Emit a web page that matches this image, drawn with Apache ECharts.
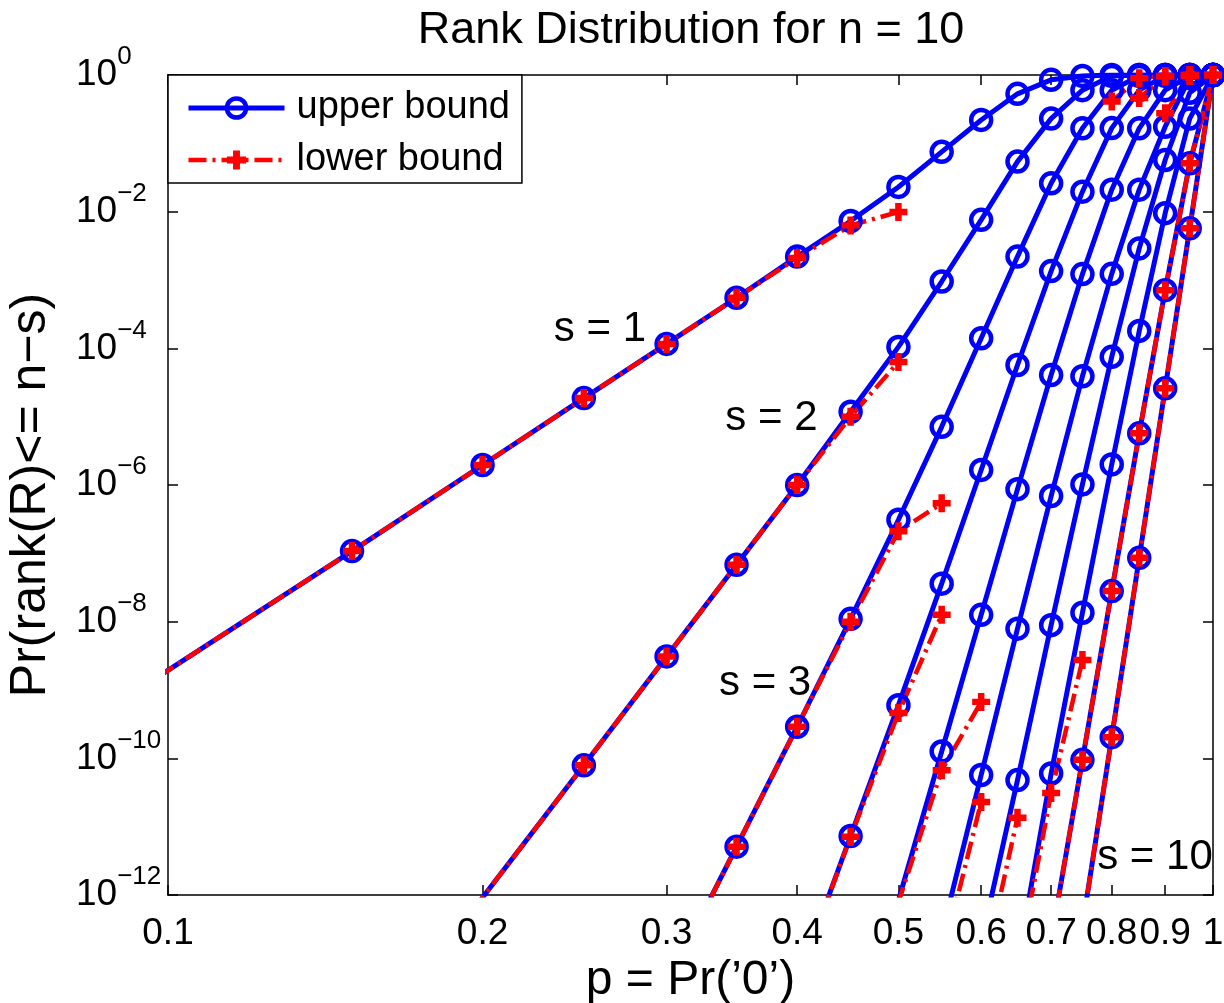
<!DOCTYPE html>
<html>
<head>
<meta charset="utf-8">
<title>Rank Distribution for n = 10</title>
<script src="https://cdn.jsdelivr.net/npm/echarts@6/dist/echarts.min.js"></script>
<style>
  html, body { margin: 0; padding: 0; background: #fff; }
  #chart { width: 1224px; height: 1003px; }
</style>
</head>
<body>
<div id="chart"></div>
<script>
// p = Pr('0'), sampled every 0.05
const pValues = [0.05, 0.10, 0.15, 0.20, 0.25, 0.30, 0.35, 0.40, 0.45, 0.50,
                 0.55, 0.60, 0.65, 0.70, 0.75, 0.80, 0.85, 0.90, 0.95, 1.00];

// upper bounds, one array per s (null = no sample)
const upper1  = [2e-12, null, 1.08e-7, 1.96e-6, 1.87e-5, 1.16e-4, 5.5e-4, 2.2e-3, 7.3e-3, 0.023, 0.075, 0.22, 0.53, 0.85, 0.97, 1, 1, 1, 1, 1];
const upper2  = [null, null, 3e-15, 9.2e-13, 7.9e-11, 3.1e-9, 6.8e-8, 1.0e-6, 1.18e-5, 1.05e-4, 9.5e-4, 7.6e-3, 0.054, 0.23, 0.6, 0.97, 1, 1, 1, 1];
const upper3  = [null, null, null, null, null, 4.8e-14, 5.1e-12, 2.9e-10, 1.1e-8, 3.1e-7, 7.1e-6, 1.4e-4, 2.2e-3, 0.026, 0.166, 0.6, 0.97, 1, 1, 1];
const upper4  = [null, null, null, null, null, null, null, 5.3e-14, 7.3e-12, 6.0e-10, 3.6e-8, 1.66e-6, 5.7e-5, 1.35e-3, 0.0196, 0.167, 0.6, 0.97, 1, 1];
const upper5  = [null, null, null, null, null, null, null, null, 3.5e-15, 8.3e-13, 1.26e-10, 1.26e-8, 8.7e-7, 4.07e-5, 1.22e-3, 0.021, 0.166, 0.6, 0.97, 1];
const upper6  = [null, null, null, null, null, null, null, null, null, 2e-15, 2.6e-13, 5.7e-11, 7.9e-9, 6.9e-7, 3.9e-5, 1.23e-3, 0.021, 0.175, 0.9, 1];
const upper7  = [null, null, null, null, null, null, null, null, null, null, 6e-16, 2e-13, 4.8e-11, 8.9e-9, 1.02e-6, 7.5e-5, 2.9e-3, 0.057, 0.55, 1];
const upper8  = [null, null, null, null, null, null, null, null, null, null, null, null, 1.0e-13, 6.0e-11, 1.35e-8, 2.0e-6, 1.8e-4, 9.5e-3, 0.23, 1];
const upper9  = [null, null, null, null, null, null, null, null, null, null, null, null, null, 2.2e-13, 9.5e-11, 2.8e-8, 5.7e-6, 7.1e-4, 0.051, 1];
const upper10 = [null, null, null, null, null, null, null, null, null, null, null, null, null, null, 3.5e-13, 2.04e-10, 8.6e-8, 2.6e-5, 5.7e-3, 1];

// lower bounds (0 = bound not positive, nothing drawn there)
const lower1  = [2e-12, null, 1.08e-7, 1.96e-6, 1.87e-5, 1.16e-4, 5.5e-4, 2.1e-3, 6.3e-3, 9.9e-3, 0, 0, 0, 0, 0, 0, 0, 0, 0, 0];
const lower2  = [null, null, 3e-15, 9.2e-13, 7.9e-11, 3.1e-9, 6.8e-8, 1.0e-6, 1.0e-5, 6.3e-5, 0, 0, 0, 0, 0, 0, 0, 0, 0, 0];
const lower3  = [null, null, null, null, null, 4.8e-14, 5.1e-12, 2.9e-10, 1.0e-8, 2.1e-7, 5.4e-7, 0, 0, 0, 0, 0.41, 0.9, 0.97, 1, 1];
const lower4  = [null, null, null, null, null, null, null, 5.3e-14, 7.1e-12, 4.6e-10, 1.26e-8, 0, 0, 0, 0, 0, 0.46, 0.95, 1, 1];
const lower5  = [null, null, null, null, null, null, null, null, 3.5e-15, 7.8e-13, 6.7e-11, 6.7e-10, 0, 0, 0, 0, 0, 0.275, 0.97, 1];
const lower6  = [null, null, null, null, null, null, null, null, null, 2e-15, 1.1e-13, 2.3e-11, 0, 0, 0, 0, 0, 0, 0, 0];
const lower7  = [null, null, null, null, null, null, null, null, null, null, 6e-16, 5.3e-14, 1.35e-11, 0, 0, 0, 0, 0, 0, 0];
const lower8  = [null, null, null, null, null, null, null, null, null, null, null, null, 8e-14, 3.1e-11, 2.75e-9, 0, 0, 0, 0, 0];
const lower9  = [null, null, null, null, null, null, null, null, null, null, null, null, null, 2.2e-13, 9.5e-11, 2.8e-8, 5.7e-6, 7.1e-4, 0.051, 1];
const lower10 = [null, null, null, null, null, null, null, null, null, null, null, null, null, null, 3.5e-13, 2.04e-10, 8.6e-8, 2.6e-5, 5.7e-3, 1];

const upperBounds = [upper1, upper2, upper3, upper4, upper5, upper6, upper7, upper8, upper9, upper10];
const lowerBounds = [lower1, lower2, lower3, lower4, lower5, lower6, lower7, lower8, lower9, lower10];

// tick values
const xTicks = [0.1, 0.2, 0.3, 0.4, 0.5, 0.6, 0.7, 0.8, 0.9, 1];
const yTicks = [1e-12, 1e-10, 1e-8, 1e-6, 1e-4, 1e-2, 1];

// curve labels
const curveLabels = ['s = 1', 's = 2', 's = 3', 's = 10'];
const curveLabelAt = [[0.259, 1.86e-4], [0.378, 9.5e-6], [0.3727, 1.26e-9], [0.88, 3.6e-12]];

const font = 'Liberation Sans, Arial, Helvetica, sans-serif';
const plusPath = 'path://M3.2,0H6.8V3.2H10V6.8H6.8V10H3.2V6.8H0V3.2H3.2Z';

const chart = echarts.init(document.getElementById('chart'), null, { renderer: 'canvas' });

function toPairs(values) {
  const out = [];
  values.forEach((v, i) => {
    if (v === null) return;
    out.push([pValues[i], v > 0 ? v : '-']);
  });
  return out;
}

const upperSeries = upperBounds.map(vals => ({
  name: 'upper bound',
  type: 'line',
  data: toPairs(vals),
  symbol: 'circle',
  symbolSize: 20,
  showAllSymbol: true,
  connectNulls: false,
  clip: true,
  lineStyle: { color: '#0000ff', width: 5 },
  itemStyle: { color: 'rgba(0,0,0,0)', borderColor: '#0000ff', borderWidth: 4.5 },
  emphasis: { disabled: true },
  silent: true
}));

const lowerSeries = lowerBounds.map(vals => ({
  name: 'lower bound',
  type: 'line',
  data: toPairs(vals),
  symbol: plusPath,
  symbolSize: 18,
  showAllSymbol: true,
  connectNulls: false,
  clip: true,
  lineStyle: { color: '#ff0000', width: 4.5, type: [18, 6, 3, 6] },
  itemStyle: { color: '#ff0000' },
  emphasis: { disabled: true },
  silent: true
}));

const labelSeries = {
  type: 'scatter',
  data: curveLabels.map((t, i) => ({ value: curveLabelAt[i], label: { formatter: t } })),
  symbolSize: 1,
  itemStyle: { color: 'rgba(0,0,0,0)', opacity: 1 },
  label: { show: true, position: 'inside', fontSize: 42, color: '#000', opacity: 1, fontFamily: font },
  silent: true,
  z: 5
};

const axisLineStyle = { color: '#000', width: 1.5 };

const option = {
  animation: false,
  backgroundColor: '#fff',
  grid: { left: 168, right: 11, top: 75, bottom: 108, containLabel: false, outerBoundsMode: 'none' },
  graphic: [{
    type: 'text',
    x: 691, y: 31,
    style: { text: 'Rank Distribution for n = 10', fontSize: 45, fontFamily: font, fill: '#000', align: 'center', verticalAlign: 'middle' }
  }],
  legend: {
    data: [
      { name: 'upper bound', lineStyle: { width: 5 }, itemStyle: { borderWidth: 4.5 } },
      { name: 'lower bound', lineStyle: { width: 4.5 } }
    ],
    orient: 'vertical',
    left: 168, top: 75,
    padding: [14, 12, 4, 18],
    itemWidth: 96, itemHeight: 24, itemGap: 14,
    backgroundColor: '#fff',
    borderColor: '#000', borderWidth: 1.5,
    textStyle: { fontSize: 38, color: '#000', fontFamily: font, padding: [0, 0, 0, 7] },
    selectedMode: false
  },
  xAxis: [{
    type: 'log', logBase: 10, min: 0.1, max: 1, position: 'bottom',
    axisLine: { lineStyle: axisLineStyle },
    axisTick: { inside: true, length: 10, customValues: xTicks, lineStyle: axisLineStyle },
    axisLabel: {
      customValues: xTicks, fontSize: 37, color: '#000', margin: 20, fontFamily: font,
      formatter: v => String(+(+v).toFixed(1))
    },
    splitLine: { show: false }, minorTick: { show: false },
    name: 'p = Pr(\u20190\u2019)', nameLocation: 'middle', nameGap: 57,
    nameTextStyle: { fontSize: 48, color: '#000', fontFamily: font }
  }, {
    type: 'log', logBase: 10, min: 0.1, max: 1, position: 'top',
    axisLine: { lineStyle: axisLineStyle },
    axisTick: { inside: true, length: 10, customValues: xTicks, lineStyle: axisLineStyle },
    axisLabel: { show: false },
    splitLine: { show: false }
  }],
  yAxis: [{
    type: 'log', logBase: 10, min: 1e-12, max: 1, position: 'left',
    axisLine: { lineStyle: axisLineStyle },
    axisTick: { inside: true, length: 10, customValues: yTicks, lineStyle: axisLineStyle },
    axisLabel: {
      customValues: yTicks, align: 'left', margin: 92,
      formatter: v => {
        const e = Math.round(Math.log10(v));
        return '{b|10}{e|' + (e === 0 ? '0' : '\u2212' + (-e)) + '}';
      },
      rich: {
        b: { fontSize: 37, lineHeight: 42, color: '#000', fontFamily: font },
        e: { fontSize: 26, lineHeight: 26, color: '#000', fontFamily: font, padding: [0, 0, 36, 0] }
      }
    },
    splitLine: { show: false }, minorTick: { show: false },
    name: 'Pr(rank(R)<= n\u2212s)', nameLocation: 'middle', nameGap: 112, nameRotate: 90,
    nameTextStyle: { fontSize: 50, color: '#000', fontFamily: font, padding: [0, 20, 0, 0] }
  }, {
    type: 'log', logBase: 10, min: 1e-12, max: 1, position: 'right',
    axisLine: { lineStyle: axisLineStyle },
    axisTick: { inside: true, length: 10, customValues: yTicks, lineStyle: axisLineStyle },
    axisLabel: { show: false },
    splitLine: { show: false }
  }],
  series: [...upperSeries, ...lowerSeries, labelSeries]
};

chart.setOption(option);
</script>
</body>
</html>
